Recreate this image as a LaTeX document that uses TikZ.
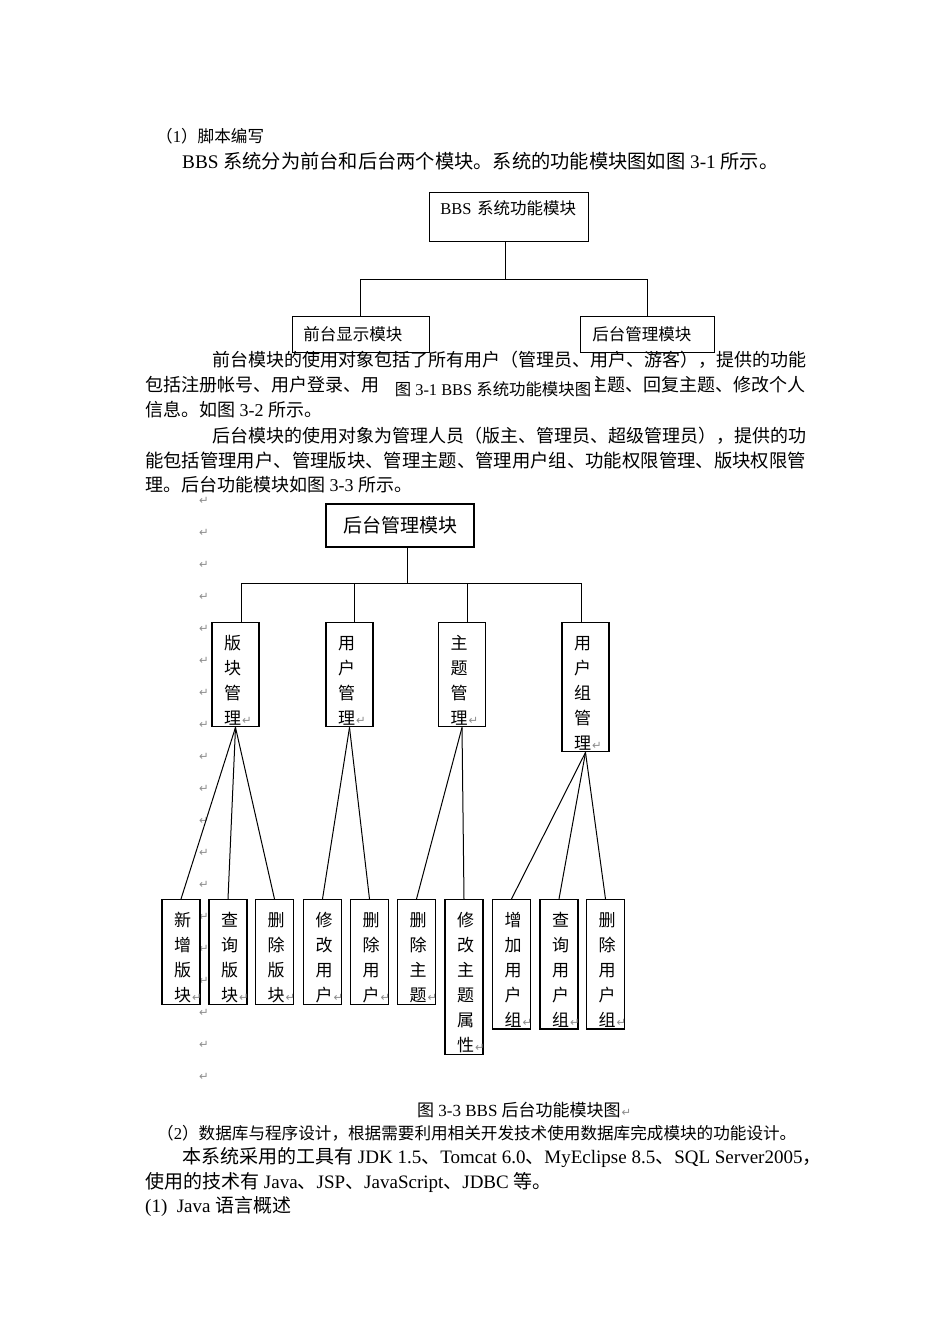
\documentclass[tikz,border=0pt]{standalone}
\usepackage{fontspec}
\setmainfont{Liberation Serif}
\newfontfamily\cjk{Noto Sans CJK SC}
\newfontfamily\arrowfont{DejaVu Sans}
\usepackage{tikz}
\usetikzlibrary{positioning, calc}
\definecolor{markgray}{RGB}{140,140,140}
\XeTeXinterchartokenstate=1
\chardef\hanclass=7
\newcount\hancount
\hancount="3000 \loop \XeTeXcharclass\hancount=\hanclass \advance\hancount 1 \ifnum\hancount<"3040 \repeat
\hancount="4E00 \loop \XeTeXcharclass\hancount=\hanclass \advance\hancount 1 \ifnum\hancount<"A000 \repeat
\hancount="FF00 \loop \XeTeXcharclass\hancount=\hanclass \advance\hancount 1 \ifnum\hancount<"FFF0 \repeat
\XeTeXinterchartoks 0 \hanclass={\cjk}
\XeTeXinterchartoks 4095 \hanclass={\cjk}
\XeTeXinterchartoks \hanclass 0={\rmfamily}
\XeTeXinterchartoks \hanclass 4095={\rmfamily}
\newcommand{\parmark}{\rlap{\hspace{1pt}\textcolor{markgray}{\arrowfont\fontsize{11.5}{11.5}\selectfont ↵}}}

\begin{document}
\begin{tikzpicture}[x=1pt, y=-1pt,
	txt/.style={anchor=west, inner sep=0pt, font=\fontsize{18}{18}\selectfont},
	big/.style={anchor=west, inner sep=0pt, font=\fontsize{19}{19}\selectfont},
	sml/.style={anchor=west, inner sep=0pt, font=\fontsize{16.6}{16.6}\selectfont},
	topbox/.style={draw, line width=0.9pt, inner ysep=0pt, align=left, anchor=north west, font=\fontsize{16.5}{16.5}\selectfont},
	vbox/.style={draw, line width=1.1pt, anchor=north, inner xsep=12pt, inner ysep=2pt, align=left, font=\cjk\fontsize{17}{25}\selectfont},
	link/.style={line width=1pt}]
	\useasboundingbox (0,0) rectangle (950,1344);
	\fill[white] (0,0) rectangle (950,1344);

	\node[sml] (t1) at (156,136) {（1）脚本编写};
	\node[txt, font=\fontsize{19.25}{19.25}\selectfont] (t2) at (182,161) {BBS 系统分为前台和后台两个模块。系统的功能模块图如图 3-1 所示。};

	\begin{scope}
		\node[topbox, text width=137pt, inner xsep=11pt, text height=22pt, text depth=27pt] (bbs) at (429,192) {BBS 系统功能模块};
		\node[topbox, text width=115pt, inner xsep=11pt, minimum height=36pt] (front) at (292,316) {前台显示模块};
		\node[topbox, text width=110pt, inner xsep=12pt, minimum height=36pt] (back) at (580,316) {后台管理模块};
		\draw[link] ([xshift=-3.5pt]bbs.south) -- ++(0,38) coordinate (bar1);
		\draw[link] (bar1) -| (front.north);
		\draw[link] (bar1) -| (back.north);
	\end{scope}

	\node[txt] (t3) at (212,360) {前台模块的使用对象包括了所有用户（管理员、用户、游客），提供的功能};
	\node[txt] (t4a) at (145,385) {包括注册帐号、用户登录、用};
	\node[txt, anchor=east] (t4b) at (806,385) {主题、回复主题、修改个人};
	\node[fill=white, inner xsep=4pt, inner ysep=2pt, font=\fontsize{16.4}{16.4}\selectfont] (cap1) at (493,389) {图 3-1 BBS 系统功能模块图\hspace{7pt}};
	\node[txt] (t5) at (145,410) {信息。如图 3-2 所示。};
	\node[txt] (t6) at (212,436) {后台模块的使用对象为管理人员（版主、管理员、超级管理员），提供的功};
	\node[txt, font=\fontsize{18.35}{18}\selectfont] (t7) at (145,461) {能包括管理用户、管理版块、管理主题、管理用户组、功能权限管理、版块权限管};
	\node[txt] (t8) at (145,485) {理。后台功能模块如图 3-3 所示。};

	\foreach \i in {0,...,18}
		\node[inner sep=0pt, text=markgray, font=\arrowfont\fontsize{11.5}{11.5}\selectfont] (pm\i) at (204,{501+32*\i}) {↵};

	\begin{scope}
		\node[draw, line width=1.1pt, minimum width=148pt, minimum height=43pt, inner sep=0pt, font=\cjk\fontsize{19}{19}\selectfont] (adm) at (400,525.5) {后台管理模块};

		\node[vbox, text width=23pt] (bankuai) at (235.5,622) {\rule{0pt}{24.5pt}版\\块\\管\\理\parmark};
		\node[vbox, text width=23pt] (yonghu) at (349.5,622) {\rule{0pt}{24.5pt}用\\户\\管\\理\parmark};
		\node[vbox, text width=23pt] (zhuti) at (462,622) {\rule{0pt}{24.5pt}主\\题\\管\\理\parmark};
		\node[vbox, text width=23pt] (zu) at (585.5,622) {\rule{0pt}{24.5pt}用\\户\\组\\管\\理\parmark};

		\node[vbox, text width=14pt] (xinzeng) at (181,899) {\rule{0pt}{24.5pt}新\\增\\版\\块\parmark};
		\node[vbox, text width=14pt] (chabk) at (228,899) {\rule{0pt}{24.5pt}查\\询\\版\\块\parmark};
		\node[vbox, text width=14pt] (shanbk) at (274.5,899) {\rule{0pt}{24.5pt}删\\除\\版\\块\parmark};
		\node[vbox, text width=14pt] (xiuyh) at (322.5,899) {\rule{0pt}{24.5pt}修\\改\\用\\户\parmark};
		\node[vbox, text width=14pt] (shanyh) at (369.5,899) {\rule{0pt}{24.5pt}删\\除\\用\\户\parmark};
		\node[vbox, text width=14pt] (shanzt) at (416.5,899) {\rule{0pt}{24.5pt}删\\除\\主\\题\parmark};
		\node[vbox, text width=14pt] (xiuzt) at (464,899) {\rule{0pt}{24.5pt}修\\改\\主\\题\\属\\性\parmark};
		\node[vbox, text width=14pt] (zengzu) at (511.5,899) {\rule{0pt}{24.5pt}增\\加\\用\\户\\组\parmark};
		\node[vbox, text width=14pt] (chazu) at (559,899) {\rule{0pt}{24.5pt}查\\询\\用\\户\\组\parmark};
		\node[vbox, text width=14pt] (shanzu) at (605.5,899) {\rule{0pt}{24.5pt}删\\除\\用\\户\\组\parmark};

		\draw[link] ([xshift=7pt]adm.south) -- ++(0,36) coordinate (bar2);
		\draw[link] (bar2) -| ([xshift=5.5pt]bankuai.north);
		\draw[link] (bar2) -| ([xshift=4.5pt]yonghu.north);
		\draw[link] (bar2) -| ([xshift=5pt]zhuti.north);
		\draw[link] (bar2) -| ([xshift=-4.5pt]zu.north);

		\draw[link] (bankuai.south) -- (xinzeng.north);
		\draw[link] (bankuai.south) -- (chabk.north);
		\draw[link] (bankuai.south) -- (shanbk.north);
		\draw[link] (yonghu.south) -- (xiuyh.north);
		\draw[link] (yonghu.south) -- (shanyh.north);
		\draw[link] (zhuti.south) -- (shanzt.north);
		\draw[link] (zhuti.south) -- (xiuzt.north);
		\draw[link] (zu.south) -- (zengzu.north);
		\draw[link] (zu.south) -- (chazu.north);
		\draw[link] (zu.south) -- (shanzu.north);
	\end{scope}

	\node[anchor=west, inner sep=0pt, font=\fontsize{17}{17}\selectfont] (cap3) at (417,1110) {图 3-3 BBS 后台功能模块图\parmark};

	\node[sml] (t9) at (157,1133) {（2）数据库与程序设计，根据需要利用相关开发技术使用数据库完成模块的功能设计。};
	\node[big] (t10) at (182,1158) {本系统采用的工具有 JDK 1.5、Tomcat 6.0、MyEclipse 8.5、SQL Server2005，};
	\node[big] (t11) at (145,1182) {使用的技术有 Java、JSP、JavaScript、JDBC 等。};
	\node[big] (t12) at (145,1207) {(1)\ \ Java 语言概述};
\end{tikzpicture}
\end{document}
